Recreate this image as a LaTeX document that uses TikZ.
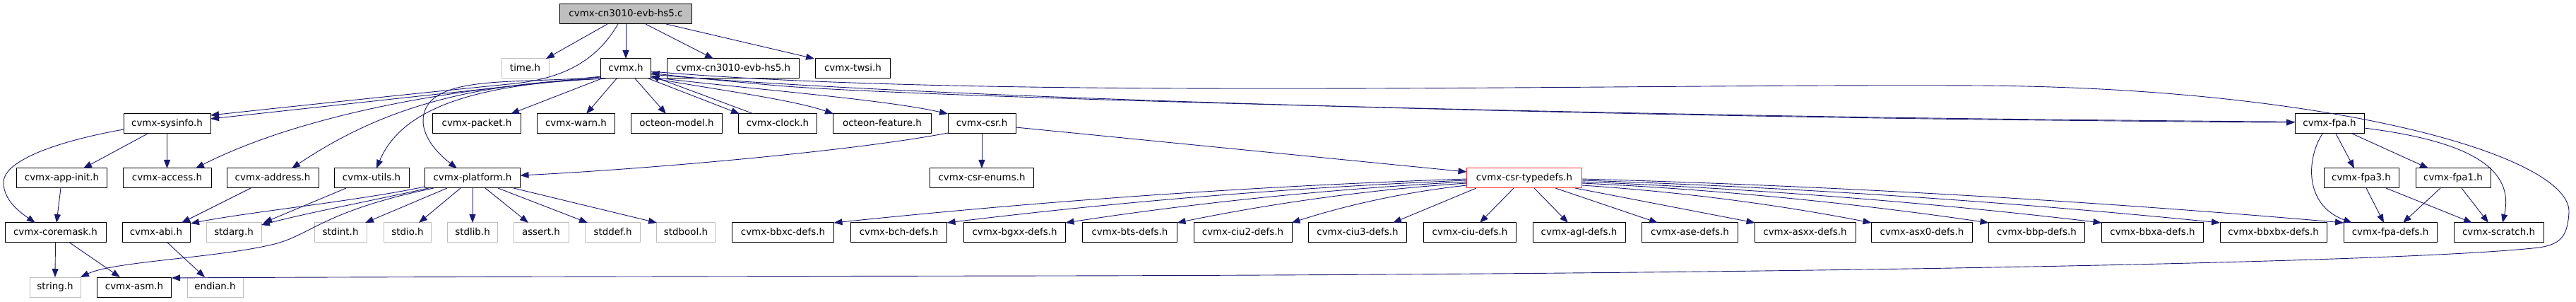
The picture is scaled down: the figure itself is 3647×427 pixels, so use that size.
\documentclass[tikz,border=0pt]{standalone}
\usepackage{fontspec}
\setmainfont{DejaVu Sans}
\usetikzlibrary{arrows.meta,calc}
\definecolor{edgec}{HTML}{191970}
\definecolor{boxgray}{HTML}{BFBFBF}
\definecolor{boxred}{HTML}{FF3030}
\begin{document}
\begin{tikzpicture}[x=1pt,y=-1pt,
doc/.style={draw=black,line width=1pt,minimum height=28pt,minimum width=#1pt,inner xsep=1pt,inner ysep=0pt,text height=10pt,text depth=3pt,font=\fontsize{13.4}{16}\selectfont},
sys/.style={doc=#1,draw=boxgray},cur/.style={doc=#1,fill=boxgray},hl/.style={doc=#1,draw=boxred},
dep/.style={draw=edgec,line width=.9pt,-{Triangle[length=12pt,width=9pt]}}]
\useasboundingbox(0,0)rectangle(3647,427);
% rows of headers
\node[cur=187](c)at(886,20){cvmx-cn3010-evb-hs5.c};
\node[sys=67](time)at(743.5,97){time.h};\node[doc=71](cvmx)at(886,97){cvmx.h};\node[doc=187](hs5)at(1038,97){cvmx-cn3010-evb-hs5.h};\node[doc=106](twsi)at(1207.5,97){cvmx-twsi.h};
\node[doc=123](sysinfo)at(236.5,175){cvmx-sysinfo.h};\node[doc=125](packet)at(675,175){cvmx-packet.h};\node[doc=110](warn)at(815.5,175){cvmx-warn.h};\node[doc=129](model)at(958,175){octeon-model.h};
\node[doc=111](clock)at(1101,175){cvmx-clock.h};\node[doc=139](feature)at(1249,175){octeon-feature.h};\node[doc=96](csr)at(1390,175){cvmx-csr.h};\node[doc=98](fpa)at(3298,175){cvmx-fpa.h};
\node[doc=128](appinit)at(87.5,252){cvmx-app-init.h};\node[doc=125](access)at(236.5,252){cvmx-access.h};\node[doc=130](address)at(386,252){cvmx-address.h};\node[doc=106](utils)at(526,252){cvmx-utils.h};
\node[doc=135](platform)at(669,252){cvmx-platform.h};\node[doc=147](enums)at(1390,252){cvmx-csr-enums.h};\node[hl=163](typedefs)at(2158,252){cvmx-csr-typedefs.h};
\node[doc=106](fpathree)at(3343,252){cvmx-fpa3.h};\node[doc=106](fpaone)at(3473,252){cvmx-fpa1.h};
\node[doc=143](coremask)at(78.5,329){cvmx-coremask.h};\node[doc=96](abi)at(221,329){cvmx-abi.h};\node[sys=78](stdarg)at(331,329){stdarg.h};\node[sys=74](stdint)at(482,329){stdint.h};
\node[sys=67](stdio)at(577,329){stdio.h};\node[sys=71](stdlib)at(669,329){stdlib.h};\node[sys=78](assert)at(766,329){assert.h};\node[sys=78](stddef)at(867.5,329){stddef.h};\node[sys=83](stdbool)at(971,329){stdbool.h};
\node[doc=144](bbxc)at(1108.5,329){cvmx-bbxc-defs.h};\node[doc=136](bch)at(1272.5,329){cvmx-bch-defs.h};\node[doc=144](bgxx)at(1436.5,329){cvmx-bgxx-defs.h};\node[doc=134](bts)at(1599.5,329){cvmx-bts-defs.h};
\node[doc=139](ciutwo)at(1759.5,329){cvmx-ciu2-defs.h};\node[doc=139](ciuthree)at(1922,329){cvmx-ciu3-defs.h};\node[doc=131](ciu)at(2081,329){cvmx-ciu-defs.h};\node[doc=131](agl)at(2235.5,329){cvmx-agl-defs.h};
\node[doc=136](ase)at(2392.5,329){cvmx-ase-defs.h};\node[doc=143](asxx)at(2555.5,329){cvmx-asxx-defs.h};\node[doc=143](asxzero)at(2721,329){cvmx-asx0-defs.h};\node[doc=136](bbp)at(2883.5,329){cvmx-bbp-defs.h};
\node[doc=144](bbxa)at(3047.5,329){cvmx-bbxa-defs.h};\node[doc=151](bbxbx)at(3218.5,329){cvmx-bbxbx-defs.h};\node[doc=132](fpadefs)at(3384,329){cvmx-fpa-defs.h};\node[doc=127](scratch)at(3537.5,329){cvmx-scratch.h};
\node[sys=72](string)at(78,406){string.h};\node[doc=105](asm)at(190,406){cvmx-asm.h};\node[sys=79](endian)at(304.5,406){endian.h};
% includes of the .c file
\draw[dep]($(c)+(-26,14)$)--($(time)+(29.5,-14)$);\draw[dep]($(c)+(0,14)$)--($(cvmx)+(0,-14)$);\draw[dep]($(c)+(28,14)$)--($(hs5)+(-28,-14)$);\draw[dep]($(c)+(57,14)$)--($(twsi)+(-54.5,-14)$);
\draw[dep]($(c)+(-11,14)$)..controls(845,85)and(800,110)..(730,118)..controls(560,135)and(400,152)..($(sysinfo)+(61.5,-12)$);
% includes of cvmx.h
\draw[dep]($(cvmx)+(-35,11)$)--($(sysinfo)+(61.5,-7)$);
\draw[dep]($(cvmx)+(-33,14)$)..controls(600,125)and(400,175)..($(access)+(40.5,-14)$);
\draw[dep]($(cvmx)+(-31,14)$)..controls(650,118)and(530,160)..($(address)+(27,-14)$);
\draw[dep]($(cvmx)+(-28,14)$)..controls(680,118)and(570,150)..($(utils)+(7,-14)$);
\draw[dep]($(cvmx)+(-35,12)$)..controls(740,118)and(640,108)..(608,145)..controls(585,175)and(610,210)..($(platform)+(-22,-14)$);
\draw[dep]($(cvmx)+(-34,14)$)--($(packet)+(48,-14)$);\draw[dep]($(cvmx)+(-13,14)$)--($(warn)+(14.5,-14)$);\draw[dep]($(cvmx)+(13,14)$)--($(model)+(-15,-14)$);
\draw[dep]($(cvmx)+(32,14)$)--($(clock)+(-54,-14)$);\draw[dep]($(clock)+(-34,-14)$)--($(cvmx)+(35.5,10)$);
\draw[dep]($(cvmx)+(35.5,13)$)..controls(1000,125)and(1120,140)..($(feature)+(-69,-14)$);
\draw[dep]($(cvmx)+(35.5,12)$)..controls(1050,125)and(1250,140)..($(csr)+(-48,-14)$);
\draw[dep]($(cvmx)+(35.5,8)$)..controls(1300,140)and(2300,164)..(2900,170)..controls(3100,172)and(3180,173)..($(fpa)+(-49,-2)$);
\draw[dep]($(fpa)+(-49,-3)$)..controls(3180,172)and(3100,171)..(2900,169)..controls(2300,163)and(1300,138)..(1100,121)..controls(1000,112)and(960,108)..($(cvmx)+(35.5,6)$);
\draw[dep]($(cvmx)+(35.5,4)$)..controls(1400,142)and(2300,118)..(2800,121)..controls(3300,124)and(3640,220)..(3637,300)..controls(3635,335)and(3625,345)..(3595,350)..controls(3400,372)and(2500,388)..(1500,390)..controls(800,391)and(400,392)..($(asm)+(53,-13)$);
% cvmx-csr.h
\draw[dep]($(csr)+(-48,13)$)..controls(1200,215)and(900,240)..($(platform)+(67.5,-4)$);
\draw[dep]($(csr)+(0,14)$)--($(enums)+(0,-14)$);\draw[dep]($(csr)+(48,5)$)--($(typedefs)+(-81.5,-9)$);
% cvmx-sysinfo.h and below
\draw[dep]($(sysinfo)+(-61.5,8)$)..controls(90,198)and(5,225)..(5,258)..controls(5,283)and(28,300)..($(coremask)+(-28.5,-14)$);
\draw[dep]($(sysinfo)+(-27.5,14)$)--($(appinit)+(30.5,-14)$);\draw[dep]($(sysinfo)+(0,14)$)--($(access)+(0,-14)$);
\draw[dep]($(appinit)+(-1.5,14)$)--($(coremask)+(1.5,-14)$);\draw[dep]($(address)+(-31,14)$)--($(abi)+(36,-14)$);\draw[dep]($(utils)+(-36,14)$)--($(stdarg)+(42,-14)$);
\draw[dep]($(coremask)+(0,14)$)--($(string)+(0,-14)$);\draw[dep]($(coremask)+(20,14)$)--($(asm)+(-20,-14)$);\draw[dep]($(abi)+(16,14)$)--($(endian)+(-14.5,-14)$);
% cvmx-platform.h
\draw[dep]($(platform)+(-67.5,12)$)..controls(500,285)and(350,300)..($(abi)+(49,-13)$);
\draw[dep]($(platform)+(-62,14)$)..controls(520,285)and(440,300)..($(stdarg)+(39,-11)$);
\draw[dep]($(platform)+(-55,14)$)..controls(450,300)and(440,335)..(380,347)..controls(300,365)and(160,370)..($(string)+(36,-14)$);
\draw[dep]($(platform)+(-36,14)$)--($(stdint)+(35,-14)$);\draw[dep]($(platform)+(-17,14)$)--($(stdio)+(16,-14)$);\draw[dep]($(platform)+(0,14)$)--($(stdlib)+(0,-14)$);
\draw[dep]($(platform)+(18,14)$)--($(assert)+(-18,-14)$);\draw[dep]($(platform)+(36,14)$)--($(stddef)+(-35.5,-14)$);\draw[dep]($(platform)+(58,14)$)--($(stdbool)+(-41,-14)$);
% cvmx-csr-typedefs.h
\draw[dep]($(typedefs)+(-81.5,1)$)..controls(1778,263)and(1479,284)..($(bbxc)+(72,-14)$);\draw[dep]($(typedefs)+(-81.5,3)$)..controls(1831,265)and(1586,285)..($(bch)+(68,-14)$);
\draw[dep]($(typedefs)+(-81.5,5)$)..controls(1887,267)and(1698,286)..($(bgxx)+(72,-14)$);\draw[dep]($(typedefs)+(-81.5,7)$)..controls(1940,268)and(1803,287)..($(bts)+(67,-14)$);
\draw[dep]($(typedefs)+(-81.5,10)$)..controls(1994,271)and(1911,288.5)..($(ciutwo)+(69,-14)$);\draw[dep]($(typedefs)+(-68,14)$)--($(ciuthree)+(50,-14)$);
\draw[dep]($(typedefs)+(-15,14)$)--($(ciu)+(14,-14)$);\draw[dep]($(typedefs)+(14,14)$)--($(agl)+(-15.5,-14)$);
\draw[dep]($(typedefs)+(44,14)$)--($(ase)+(-45.5,-14)$);\draw[dep]($(typedefs)+(72,14)$)--($(asxx)+(-71,-14)$);
\draw[dep]($(typedefs)+(81.5,10)$)..controls(2376,271)and(2513,288.5)..($(asxzero)+(-71.5,-14)$);\draw[dep]($(typedefs)+(81.5,7)$)..controls(2431.5,268)and(2623.5,287)..($(bbp)+(-68,-14)$);
\draw[dep]($(typedefs)+(81.5,5)$)..controls(2485,267)and(2730,286)..($(bbxa)+(-72,-14)$);\draw[dep]($(typedefs)+(81.5,3)$)..controls(2541,265)and(2842,285)..($(bbxbx)+(-75.5,-14)$);
\draw[dep]($(typedefs)+(81.5,1)$)..controls(2599,263)and(2958.5,284)..($(fpadefs)+(-66,-14)$);
% cvmx-fpa.h
\draw[dep]($(fpa)+(-10,14)$)..controls(3265,225)and(3262,290)..($(fpadefs)+(-54,-14)$);
\draw[dep]($(fpa)+(9,14)$)--($(fpathree)+(-10,-14)$);\draw[dep]($(fpa)+(32,14)$)--($(fpaone)+(-35,-14)$);
\draw[dep]($(fpa)+(49,6)$)..controls(3500,200)and(3560,240)..($(scratch)+(5.5,-14)$);
\draw[dep]($(fpathree)+(7,14)$)--($(fpadefs)+(-9,-14)$);\draw[dep]($(fpathree)+(35,14)$)--($(scratch)+(-37.5,-14)$);
\draw[dep]($(fpaone)+(-18,14)$)--($(fpadefs)+(18,-14)$);\draw[dep]($(fpaone)+(12,14)$)--($(scratch)+(-14.5,-14)$);
\end{tikzpicture}
\end{document}
